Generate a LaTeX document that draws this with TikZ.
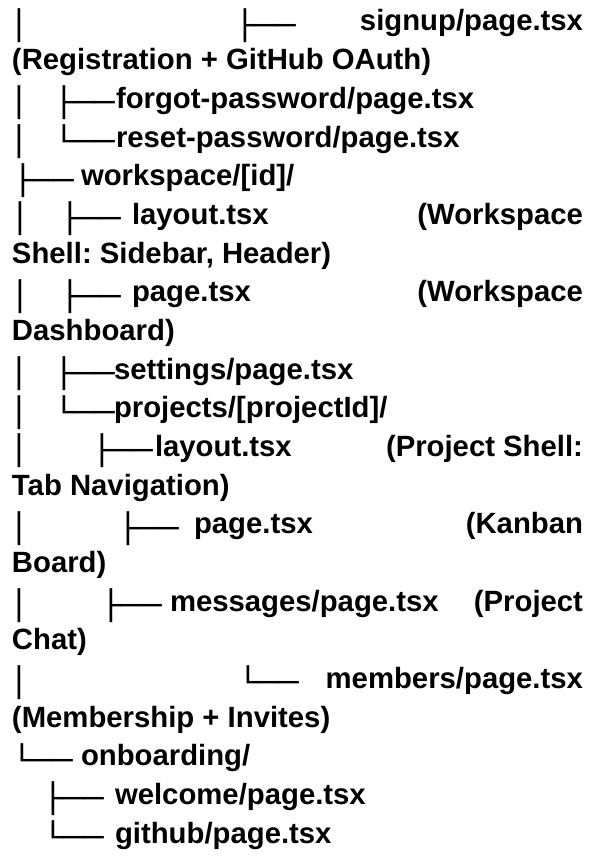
\documentclass[tikz,border=0pt]{standalone}
\usepackage{fontspec}
\setmainfont{Liberation Sans}
\newfontfamily\treefont{DejaVu Sans}
\newsavebox\treebarbox
% tree glyphs are stretched so that a bar spans 34pt: 22.5pt above the baseline, 11.5pt below
\newcommand\tg[1]{\raisebox{\treeraise pt}{\scalebox{1.15}[\treesy]{#1}}}
\begin{document}
\frenchspacing
\sbox\treebarbox{\treefont\bfseries\fontsize{29.3}{35}\selectfont │}%
\pgfmathsetmacro\treesy{34/(\ht\treebarbox+\dp\treebarbox)}%
\pgfmathsetmacro\treeraise{22.5-\ht\treebarbox*\treesy}%
\begin{tikzpicture}[x=1pt, y=-38.67pt,
  txt/.style={anchor=base west, inner sep=0pt, outer sep=0pt,
    font=\fontsize{29.3}{35}\selectfont\bfseries},
  txtr/.style={txt, anchor=base east},
  branch/.style={anchor=base west, inner sep=0pt, outer sep=0pt, xshift=-10.1pt,
    font=\treefont\bfseries\fontsize{29.3}{35}\selectfont}]
\useasboundingbox (0pt,0pt) rectangle (592pt,-856pt);
\begin{scope}[yshift=-31pt]
% auth pages
\node[branch] (b1a) at (19,0) {\tg{│}};
\node[branch] (b1b) at (245,0) {\tg{├──}};
\node[txtr] (t1) at (583,0) {signup/page.tsx};
\node[txt] (t2) at (12,1) {(Registration + GitHub OAuth)};
\node[branch] (b3a) at (19,2) {\tg{│}};
\node[branch] (b3b) at (64,2) {\tg{├──}};
\node[txt] (t3) at (116,2) {forgot-password/page.tsx};
\node[branch] (b4a) at (19,3) {\tg{│}};
\node[branch] (b4b) at (64,3) {\tg{└──}};
\node[txt] (t4) at (116,3) {reset-password/page.tsx};
% workspace
\node[branch] (b5) at (23,4) {\tg{├──}};
\node[txt] (t5) at (81,4) {workspace/[id]/};
\node[branch] (b6a) at (20,5) {\tg{│}};
\node[branch] (b6b) at (70,5) {\tg{├──}};
\node[txt] (t6) at (132,5) {layout.tsx};
\node[txtr] (t6r) at (583,5) {(Workspace};
\node[txt] (t7) at (12,6) {Shell: Sidebar, Header)};
\node[branch] (b8a) at (20,7) {\tg{│}};
\node[branch] (b8b) at (70,7) {\tg{├──}};
\node[txt] (t8) at (132,7) {page.tsx};
\node[txtr] (t8r) at (583,7) {(Workspace};
\node[txt] (t9) at (12,8) {Dashboard)};
\node[branch] (b10a) at (19,9) {\tg{│}};
\node[branch] (b10b) at (64,9) {\tg{├──}};
\node[txt] (t10) at (114,9) {settings/page.tsx};
\node[branch] (b11a) at (19,10) {\tg{│}};
\node[branch] (b11b) at (64,10) {\tg{└──}};
\node[txt] (t11) at (114,10) {projects/[projectId]/};
% project pages
\node[branch] (b12a) at (19,11) {\tg{│}};
\node[branch] (b12b) at (102,11) {\tg{├──}};
\node[txt] (t12) at (155,11) {layout.tsx};
\node[txtr] (t12r) at (583,11) {(Project Shell:};
\node[txt] (t13) at (12,12) {Tab Navigation)};
\node[branch] (b14a) at (19,13) {\tg{│}};
\node[branch] (b14b) at (128,13) {\tg{├──}};
\node[txt] (t14) at (194,13) {page.tsx};
\node[txtr] (t14r) at (583,13) {(Kanban};
\node[txt] (t15) at (12,14) {Board)};
\node[branch] (b16a) at (19,15) {\tg{│}};
\node[branch] (b16b) at (111,15) {\tg{├──}};
\node[txt] (t16) at (170,15) {messages/page.tsx};
\node[txtr] (t16r) at (583,15) {(Project};
\node[txt] (t17) at (12,16) {Chat)};
\node[branch] (b18a) at (19,17) {\tg{│}};
\node[branch] (b18b) at (248,17) {\tg{└──}};
\node[txtr] (t18) at (583,17) {members/page.tsx};
\node[txt] (t19) at (12,18) {(Membership + Invites)};
% onboarding
\node[branch] (b20) at (22,19) {\tg{└──}};
\node[txt] (t20) at (81,19) {onboarding/};
\node[branch] (b21) at (53,20) {\tg{├──}};
\node[txt] (t21) at (115,20) {welcome/page.tsx};
\node[branch] (b22) at (53,21) {\tg{└──}};
\node[txt] (t22) at (115,21) {github/page.tsx};
\end{scope}
\end{tikzpicture}
\end{document}
